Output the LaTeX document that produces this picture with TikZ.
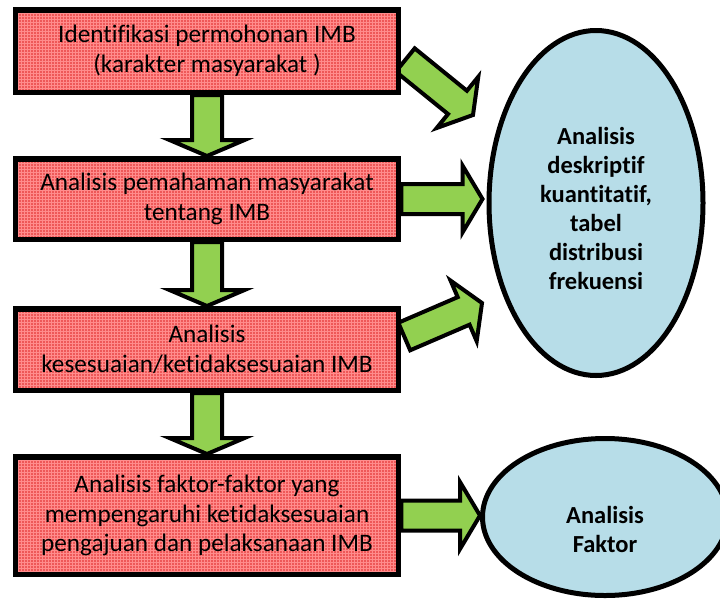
\documentclass[tikz,border=0pt]{standalone}
\usepackage{fontspec}
\setmainfont{Carlito}[Ligatures=NoCommon]
\usepackage{xcolor}
\usepackage{tikz}
\usetikzlibrary{calc, patterns, shapes.geometric}

\definecolor{boxred}{RGB}{238,88,88}
\definecolor{boxgrid}{RGB}{255,140,140}
\definecolor{arrowgreen}{RGB}{146,208,80}
\definecolor{ellblue}{RGB}{183,221,232}

\pgfdeclarelayer{bg}
\pgfsetlayers{bg,main}

% block arrow: #1 head half width, #2 head length, #3 tail, #4 tip
\newcommand{\blockarrow}[4]{%
  \coordinate (hb) at ($(#4)!#2pt!(#3)$);
  \filldraw[fatarrow]
    ($(#3)!15pt!90:(#4)$) -- ($(hb)!15pt!90:(#4)$) -- ($(hb)!#1pt!90:(#4)$) -- (#4)
    -- ($(hb)!#1pt!-90:(#4)$) -- ($(hb)!15pt!-90:(#4)$) -- ($(#3)!15pt!-90:(#4)$) -- cycle;
}

\begin{document}
\begin{tikzpicture}[x=1pt, y=-1pt, line join=miter,
    box/.style={preaction={fill=boxred}, pattern=grid, pattern color=boxgrid,
      draw, line width=5.5pt, minimum width=383pt,
      align=center, inner sep=0pt, font=\fontsize{25.2}{29.5}\selectfont},
    ellnode/.style={ellipse, draw, line width=5pt, fill=ellblue, inner sep=0pt},
    elltext/.style={align=center, inner sep=0pt, font=\fontsize{24.5}{29}\selectfont\bfseries},
    fatarrow/.style={draw, line width=4pt, fill=arrowgreen}]

    \useasboundingbox (0,0) rectangle (720,598);

    % Steps (left column)
    \node[box, minimum height=82.5pt] (b1) at (207,51)
        {Identifikasi permohonan IMB\\(karakter masyarakat )};
    \node[box, minimum height=80.5pt] (b2) at (207,199)
        {Analisis pemahaman masyarakat\\tentang IMB};
    \node[box, minimum height=81.5pt] (b3) at (207,349.5)
        {Analisis\\kesesuaian/ketidaksesuaian IMB};
    \node[box, minimum height=117.5pt] (b4) at (207,515.5)
        {Analisis faktor-faktor yang\\mempengaruhi ketidaksesuaian\\pengajuan dan pelaksanaan IMB};

    % Methods (right)
    \node[ellnode, minimum width=214pt, minimum height=345pt] (e1) at (596,203) {};
    \node[elltext] (e1t) at (596,208)
        {Analisis\\deskriptif\\kuantitatif,\\tabel\\distribusi\\frekuensi};
    \node[ellnode, minimum width=245pt, minimum height=157pt] (e2) at (605,517) {};
    \node[elltext] (e2t) at (605,529) {Analisis\\Faktor};

    % Arrow ends
    \coordinate (d1s) at ($(b1.east)+(4,9)$);
    \coordinate (d1) at (473,115);
    \coordinate (t2) at ($(e1.west |- b2.east)+(-4,0)$);
    \coordinate (d3s) at ($(b3.east)+(3,-13)$);
    \coordinate (d3) at (482,303);
    \coordinate (t4) at (e2.west |- b4.east);

    % Green block arrows (behind the shapes)
    \begin{pgfonlayer}{bg}
        \foreach \a/\b in {b1/b2, b2/b3, b3/b4}{
            \blockarrow{37.5}{16}{\a.south}{\b.north}
        }
        \blockarrow{33}{20}{d1s}{d1}
        \blockarrow{33.5}{20}{b2.east}{t2}
        \blockarrow{33}{20}{d3s}{d3}
        \blockarrow{33.5}{20}{b4.east}{t4}
    \end{pgfonlayer}

\end{tikzpicture}
\end{document}
